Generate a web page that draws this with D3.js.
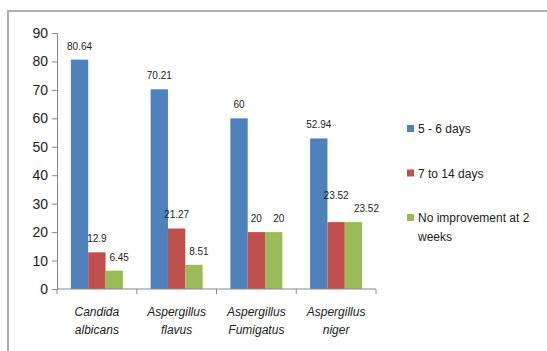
<!DOCTYPE html>
<html>
<head>
<meta charset="utf-8">
<script src="https://cdn.jsdelivr.net/npm/d3@7"></script>
<style>
  body { margin: 0; background: #fff; }
  svg text { font-family: "Liberation Sans Narrow", "Liberation Sans", Arial, sans-serif; fill: #222; }
</style>
</head>
<body>
<svg id="chart" width="547" height="351"></svg>
<script>
var categories = [["Candida", "albicans"], ["Aspergillus", "flavus"], ["Aspergillus", "Fumigatus"], ["Aspergillus", "niger"]];
var seriesNames = ["5 - 6 days", "7 to 14 days", "No improvement at 2 weeks"];
var days5to6   = [80.64, 70.21, 60, 52.94];
var days7to14  = [12.9, 21.27, 20, 23.52];
var noImprove  = [6.45, 8.51, 20, 23.52];
var yTicks     = [0, 10, 20, 30, 40, 50, 60, 70, 80, 90];
var colors     = ["#4F81BD", "#C0504D", "#9BBB59"];

var svg = d3.select("#chart");

// frame
svg.append("path")
  .attr("d", "M8,351 L8,11 L547,11")
  .attr("fill", "none")
  .attr("stroke", "#b0b0b0")
  .attr("stroke-width", 2);

var plotLeft = 57, plotRight = 376, plotTop = 33, plotBottom = 289;

var x0 = d3.scaleBand().domain(d3.range(categories.length)).range([plotLeft, plotRight]).paddingInner(0).paddingOuter(0);
var x1 = d3.scaleBand().domain(d3.range(seriesNames.length)).range([0, x0.bandwidth()]).paddingInner(0).paddingOuter(0.8);
var y = d3.scaleLinear().domain([0, 90]).range([plotBottom, plotTop]);

var series = [days5to6, days7to14, noImprove];
var rows = categories.map(function(c, i) {
  return series.map(function(s, j) { return { cat: i, ser: j, value: s[i] }; });
});

// y axis
var yAxis = svg.append("g")
  .attr("transform", "translate(" + plotLeft + ",0)")
  .call(d3.axisLeft(y).tickValues(yTicks).tickSize(5).tickPadding(4).tickFormat(d3.format("d")));
yAxis.select(".domain").attr("stroke", "#888");
yAxis.selectAll(".tick line").attr("stroke", "#888");
yAxis.selectAll("text").attr("font-size", 14).attr("fill", "#222")
  .style("font-family", '"Liberation Sans Narrow", "Liberation Sans", Arial, sans-serif');

// bars
var groups = svg.append("g").selectAll("g")
  .data(rows)
  .enter().append("g")
  .attr("transform", function(d, i) { return "translate(" + x0(i) + ",0)"; });

groups.selectAll("rect")
  .data(function(d) { return d; })
  .enter().append("rect")
  .attr("x", function(d) { return x1(d.ser); })
  .attr("width", x1.bandwidth())
  .attr("y", function(d) { return y(d.value); })
  .attr("height", function(d) { return plotBottom - y(d.value); })
  .attr("fill", function(d) { return colors[d.ser]; });

groups.each(function() {
  var g = d3.select(this);
  var labels = g.selectAll("text.lbl")
    .data(function(d) { return d; })
    .enter().append("text")
    .attr("class", "lbl")
    .attr("x", function(d) { return x1(d.ser) + x1.bandwidth() / 2 + (d.ser === 2 ? 5 : 0); })
    .attr("y", function(d) { return y(d.value) - 10; })
    .attr("text-anchor", "middle")
    .attr("font-size", 10)
    .text(function(d) { return d.value; });
  // lift a label that would collide with its right neighbour
  var nodes = labels.nodes();
  for (var k = nodes.length - 2; k >= 0; k--) {
    var a = nodes[k].getBBox(), b = nodes[k + 1].getBBox();
    var overlapX = a.x + a.width + 2 > b.x && b.x + b.width > a.x;
    var overlapY = a.y + a.height > b.y && b.y + b.height > a.y;
    if (overlapX && overlapY) {
      d3.select(nodes[k]).attr("y", +d3.select(nodes[k]).attr("y") - 13);
      d3.select(nodes[k + 1]).attr("x", +d3.select(nodes[k + 1]).attr("x") + 8);
    }
  }
});

// x axis
var xAxis = svg.append("g")
  .attr("transform", "translate(0," + plotBottom + ")");
xAxis.append("line")
  .attr("x1", plotLeft).attr("x2", plotRight)
  .attr("stroke", "#888");
xAxis.selectAll("line.tick")
  .data(d3.range(categories.length + 1))
  .enter().append("line")
  .attr("class", "tick")
  .attr("x1", function(i) { return i < categories.length ? x0(i) : plotRight; })
  .attr("x2", function(i) { return i < categories.length ? x0(i) : plotRight; })
  .attr("y1", 0).attr("y2", 5)
  .attr("stroke", "#888");

var catLabels = svg.append("g").selectAll("text")
  .data(categories)
  .enter().append("text")
  .attr("x", function(d, i) { return x0(i) + x0.bandwidth() / 2; })
  .attr("y", 316)
  .attr("text-anchor", "middle")
  .attr("font-size", 12)
  .attr("font-style", "italic");
catLabels.append("tspan").text(function(d) { return d[0]; });
catLabels.append("tspan")
  .attr("x", function(d, i) { return x0(i) + x0.bandwidth() / 2; })
  .attr("dy", 18)
  .text(function(d) { return d[1]; });

// legend
var legendY = d3.scalePoint().domain(d3.range(seriesNames.length)).range([129, 218]);
var legend = svg.append("g").selectAll("g")
  .data(seriesNames)
  .enter().append("g")
  .attr("transform", function(d, i) { return "translate(407," + legendY(i) + ")"; });
legend.append("rect")
  .attr("x", 0).attr("y", -4)
  .attr("width", 7).attr("height", 7)
  .attr("fill", function(d, i) { return colors[i]; });
legend.each(function(d) {
  var g = d3.select(this);
  var lines = d === "No improvement at 2 weeks" ? ["No improvement at 2", "weeks"] : [d];
  var t = g.append("text").attr("x", 11).attr("y", 4).attr("font-size", 12);
  lines.forEach(function(l, k) {
    t.append("tspan").attr("x", 11).attr("dy", k === 0 ? 0 : 19).text(l);
  });
});
</script>
</body>
</html>
